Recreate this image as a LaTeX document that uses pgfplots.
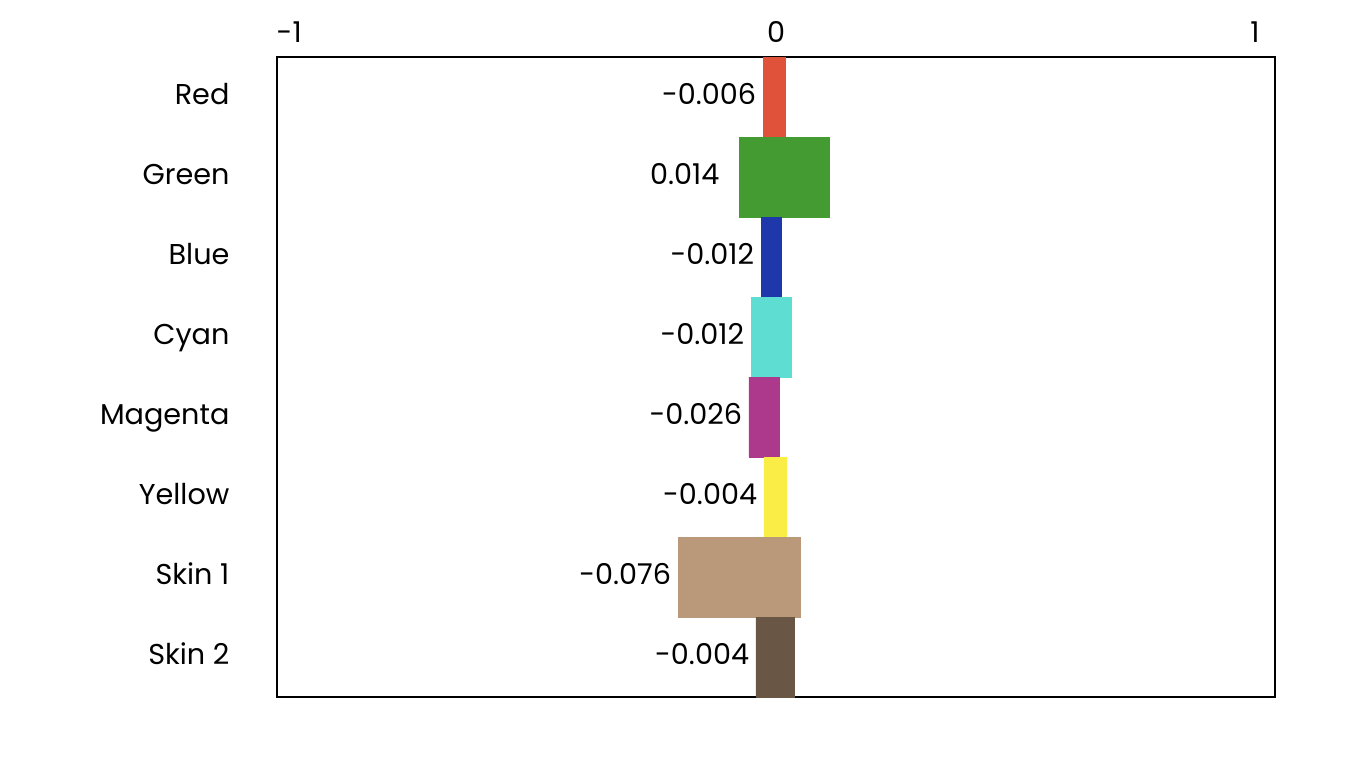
\documentclass[border=0pt]{standalone}
\usepackage{pgfplots}
\pgfplotsset{compat=1.18}
\usepackage{fontspec}
\setmainfont{Poppins}
\definecolor{cRed}{HTML}{E0533A}
\definecolor{cGreen}{HTML}{439B31}
\definecolor{cBlue}{HTML}{1E37AA}
\definecolor{cCyan}{HTML}{5EDDD2}
\definecolor{cMagenta}{HTML}{AC398C}
\definecolor{cYellow}{HTML}{FAEE46}
\definecolor{cSkinA}{HTML}{BA987A}
\definecolor{cSkinB}{HTML}{6A5644}
\tikzset{lbl/.style={anchor=base east, inner sep=0pt, xshift=-5pt, yshift=-5.7pt, font=\fontsize{21.5}{25}\selectfont}}
\begin{document}
\begin{tikzpicture}
\useasboundingbox (-207.75pt,-47.25pt) rectangle (810.75pt,522.75pt);
\begin{axis}[
  at={(0,0)}, anchor=south west,
  scale only axis, width=748.5pt, height=480pt,
  xmin=-1.042, xmax=1.042, ymin=0.5, ymax=8.5, y dir=reverse,
  xtick={-1,0,1}, xticklabels={{\llap{-}1},0,1}, xticklabel pos=right,
  ytick={1,2,3,4,5,6,7,8},
  yticklabels={Red,Green,Blue,Cyan,Magenta,Yellow,Skin 1,Skin 2},
  major tick length=0pt,
  tick label style={font=\fontsize{21.5}{25}\selectfont},
  x tick label style={inner sep=0pt, anchor=south, yshift=10.5pt},
  y tick label style={inner sep=0pt, anchor=base east, xshift=-35.5pt, yshift=-5.5pt},
  axis line style={line width=1.2pt},
  xbar, bar width=1, bar shift=0,
  clip=false,
]
\addplot[fill=cRed, draw=cRed, line width=0.1pt] coordinates {(-0.0271,1) (0.0188,1)};
\addplot[fill=cGreen, draw=cGreen, line width=0.1pt] coordinates {(-0.0772,2) (0.1106,2)};
\addplot[fill=cBlue, draw=cBlue, line width=0.1pt] coordinates {(-0.0313,3) (0.0104,3)};
\addplot[fill=cCyan, draw=cCyan, line width=0.1pt] coordinates {(-0.0522,4) (0.0313,4)};
\addplot[fill=cMagenta, draw=cMagenta, line width=0.1pt] coordinates {(-0.0564,5) (0.0063,5)};
\addplot[fill=cYellow, draw=cYellow, line width=0.1pt] coordinates {(-0.0251,6) (0.0209,6)};
\addplot[fill=cSkinA, draw=cSkinA, line width=0.1pt] coordinates {(-0.2046,7) (0.0501,7)};
\addplot[fill=cSkinB, draw=cSkinB, line width=0.1pt] coordinates {(-0.0418,8) (0.0376,8)};
\node[lbl] at (axis cs:-0.0271,1) {-0.006};
\node[lbl, xshift=-9.5pt] at (axis cs:-0.0772,2) {0.014};
\node[lbl] at (axis cs:-0.0313,3) {-0.012};
\node[lbl] at (axis cs:-0.0522,4) {-0.012};
\node[lbl] at (axis cs:-0.0564,5) {-0.026};
\node[lbl] at (axis cs:-0.0251,6) {-0.004};
\node[lbl] at (axis cs:-0.2046,7) {-0.076};
\node[lbl] at (axis cs:-0.0418,8) {-0.004};
\end{axis}
\end{tikzpicture}
\end{document}
